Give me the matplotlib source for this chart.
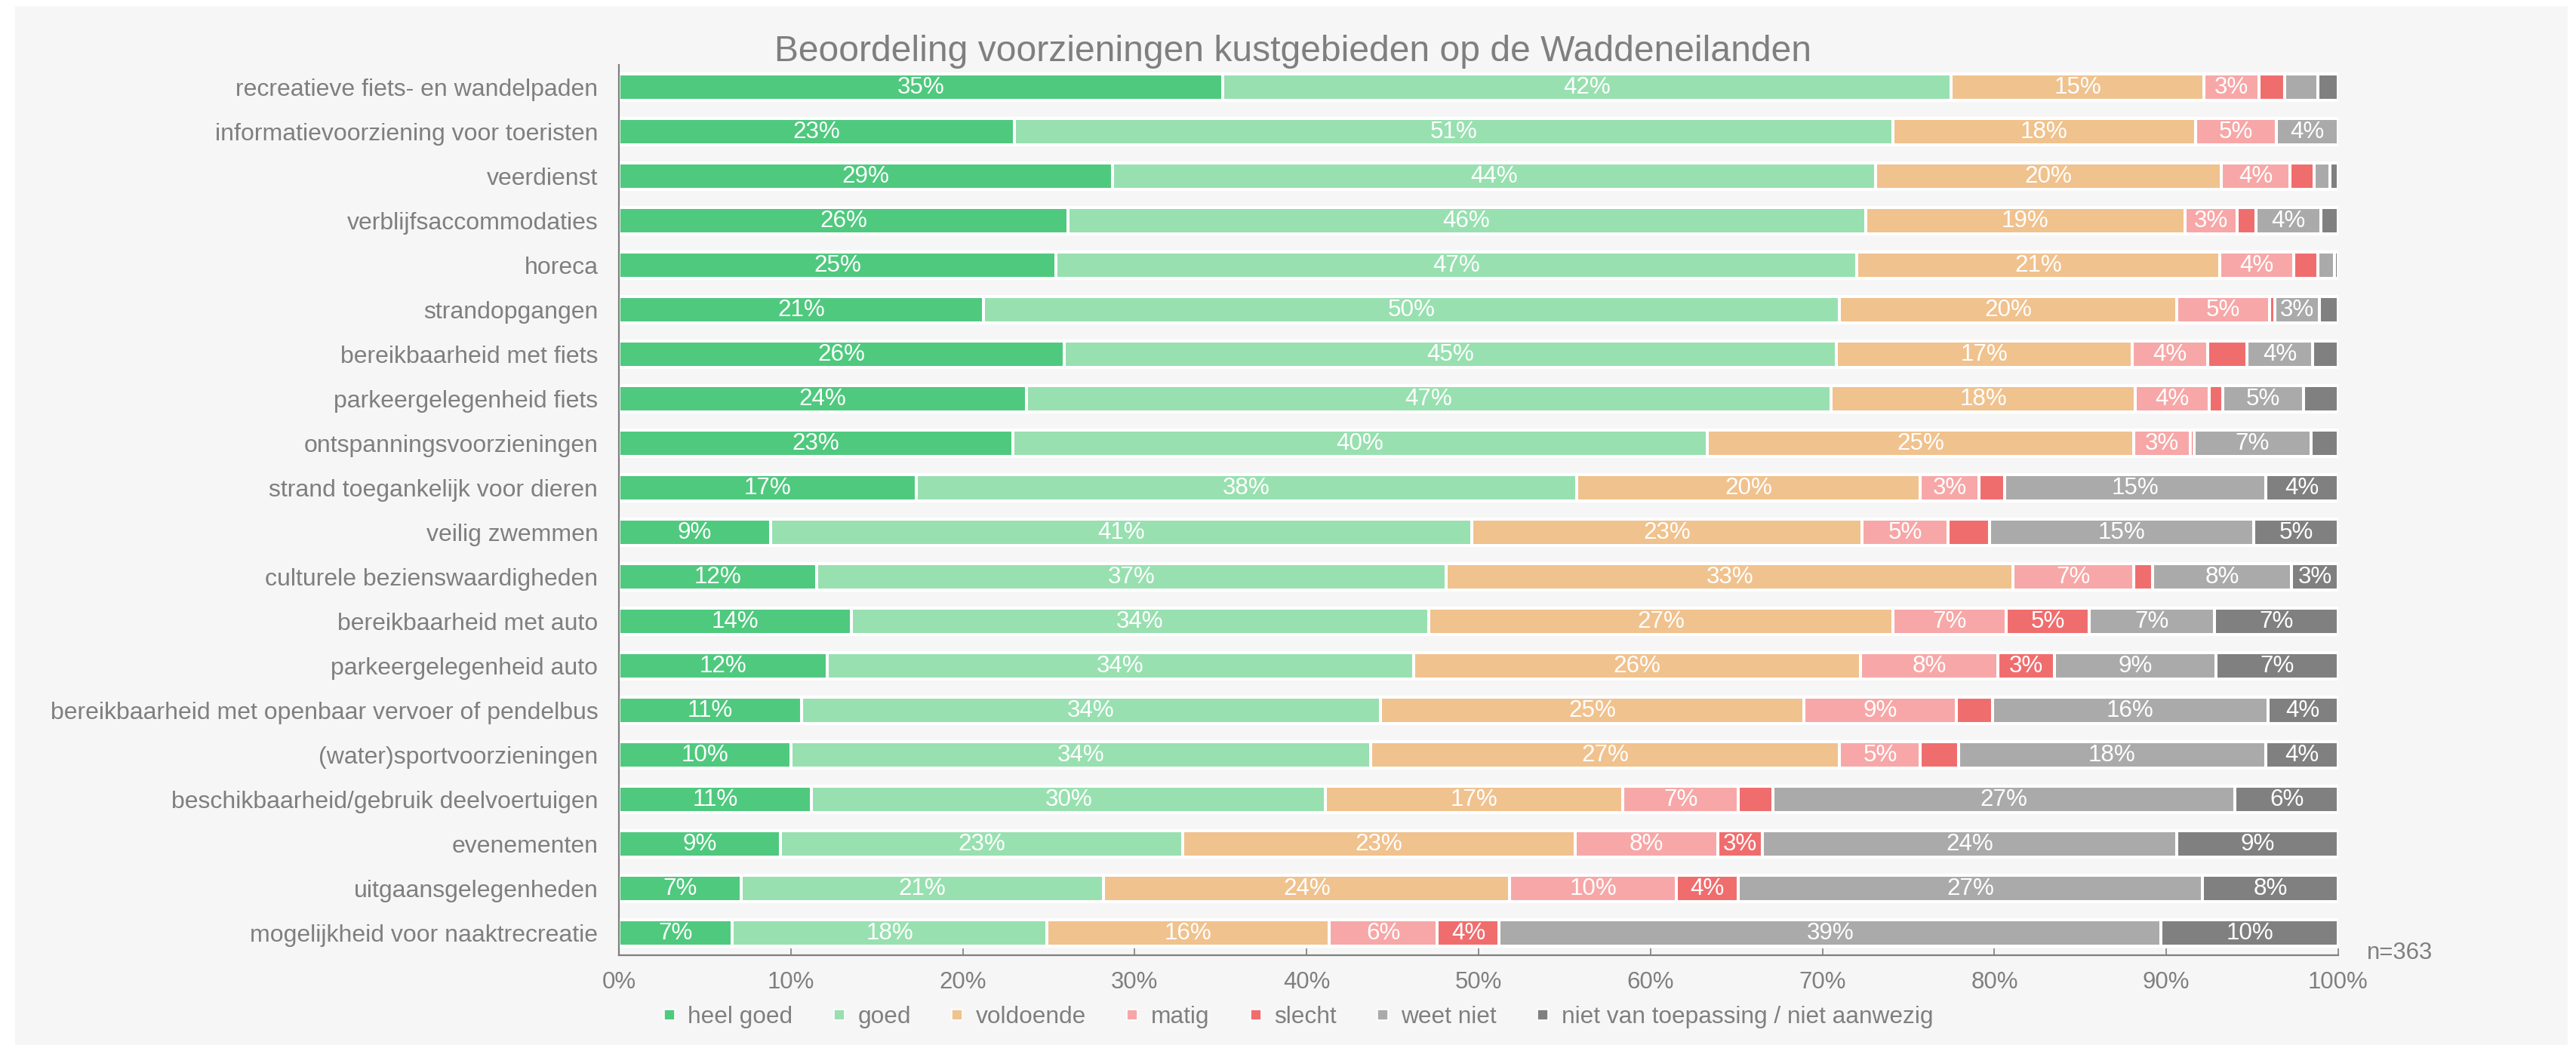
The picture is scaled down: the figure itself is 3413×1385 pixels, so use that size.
import matplotlib.pyplot as plt
from matplotlib.patches import Rectangle
from matplotlib.lines import Line2D

plt.rcParams['font.family'] = ['Liberation Sans', 'DejaVu Sans']

categories = ['recreatieve fiets- en wandelpaden', 'informatievoorziening voor toeristen', 'veerdienst',
              'verblijfsaccommodaties', 'horeca', 'strandopgangen', 'bereikbaarheid met fiets',
              'parkeergelegenheid fiets', 'ontspanningsvoorzieningen', 'strand toegankelijk voor dieren',
              'veilig zwemmen', 'culturele bezienswaardigheden', 'bereikbaarheid met auto',
              'parkeergelegenheid auto', 'bereikbaarheid met openbaar vervoer of pendelbus',
              '(water)sportvoorzieningen', 'beschikbaarheid/gebruik deelvoertuigen', 'evenementen',
              'uitgaansgelegenheden', 'mogelijkheid voor naaktrecreatie']

heel_goed = [35.1, 23.0, 28.7, 26.1, 25.4, 21.2, 25.9, 23.7, 22.9, 17.3,
             8.8, 11.5, 13.5, 12.1, 10.6, 10.0, 11.2, 9.4, 7.1, 6.6]
goed = [42.4, 51.1, 44.4, 46.4, 46.6, 49.8, 44.9, 46.8, 40.4, 38.4,
        40.8, 36.6, 33.6, 34.1, 33.7, 33.7, 29.9, 23.4, 21.1, 18.3]
voldoende = [14.7, 17.6, 20.1, 18.6, 21.1, 19.6, 17.2, 17.7, 24.8, 20.0,
             22.7, 33.0, 27.0, 26.0, 24.6, 27.3, 17.3, 22.8, 23.6, 16.4]
matig = [3.2, 4.7, 4.0, 3.0, 4.3, 5.4, 4.4, 4.3, 3.3, 3.4,
         5.0, 7.0, 6.6, 8.0, 8.9, 4.7, 6.7, 8.3, 9.7, 6.3]
slecht = [1.5, 0.0, 1.4, 1.1, 1.4, 0.3, 2.3, 0.8, 0.2, 1.5,
          2.4, 1.1, 4.8, 3.3, 2.1, 2.2, 2.0, 2.6, 3.6, 3.6]
weet_niet = [1.9, 3.6, 0.9, 3.8, 1.0, 2.6, 3.8, 4.7, 6.8, 15.2,
             15.4, 8.1, 7.3, 9.4, 16.0, 17.9, 26.9, 24.1, 27.0, 38.5]
nvt = [1.2, 0.0, 0.5, 1.0, 0.2, 1.1, 1.5, 2.0, 1.6, 4.2,
       4.9, 2.7, 7.2, 7.1, 4.1, 4.2, 6.0, 9.4, 7.9, 10.3]

series = ['heel goed', 'goed', 'voldoende', 'matig', 'slecht', 'weet niet',
          'niet van toepassing / niet aanwezig']
colors = ['#4fc97e', '#98e0b0', '#f0c28e', '#f7a7a7', '#f06d6e', '#aaaaaa', '#808080']
n_text = 'n=363'
title = 'Beoordeling voorzieningen kustgebieden op de Waddeneilanden'

txt = '#7f7f7f'
fig = plt.figure(figsize=(3413 / 200, 1385 / 200), dpi=200, facecolor='white')
fig.patches.append(Rectangle((20 / 3413, 0), 3382 / 3413, 1 - 8 / 1385, transform=fig.transFigure,
                             facecolor='#f6f6f6', edgecolor='none', zorder=-10))
ax = fig.add_axes([0.2403, 0.0859, 0.6674, 0.852])
ax.set_facecolor('none')

y = list(range(len(categories)))
left = [0.0] * len(categories)
for name, vals, col in zip(series, [heel_goed, goed, voldoende, matig, slecht, weet_niet, nvt], colors):
    bars = ax.barh(y, vals, left=left, height=0.6, color=col, edgecolor='white', linewidth=1.45)
    labels = ['%d%%' % int(v + 0.5) if v >= 2.5 else '' for v in vals]
    ax.bar_label(bars, labels=labels, label_type='center', color='white', fontsize=11.3)
    left = [a + b for a, b in zip(left, vals)]

ax.set_ylim(len(categories) - 0.5, -0.5)
ax.set_xlim(0, 100)
ax.set_yticks(y)
ax.set_yticklabels(categories)
ax.set_xticks(range(0, 101, 10))
ax.set_xticklabels(['%d%%' % t for t in range(0, 101, 10)])
ax.tick_params(axis='y', length=0, pad=10, labelsize=11.5, labelcolor=txt)
ax.tick_params(axis='x', direction='in', length=3.2, width=0.6, color=txt, pad=7.5,
               labelsize=11.2, labelcolor=txt)
for s in ['top', 'right']:
    ax.spines[s].set_visible(False)
for s in ['left', 'bottom']:
    ax.spines[s].set_color(txt)
    ax.spines[s].set_linewidth(0.8)

ax.text(1.0167, -0.0042, n_text, transform=ax.transAxes, ha='left', va='baseline',
        fontsize=11.2, color=txt)
fig.text(0.502, 0.9415, title, ha='center', va='baseline', fontsize=17.3, color=txt)

handles = [Line2D([], [], marker='s', linestyle='none', markersize=4.7, markerfacecolor=c,
                  markeredgecolor='white', markeredgewidth=0.6) for c in colors]
fig.legend(handles, series, loc='center', bbox_to_anchor=(0.504, 0.027), ncol=7, frameon=False,
           fontsize=11.4, labelcolor=txt, handlelength=0.5, handletextpad=0.52, columnspacing=1.69)

fig.savefig('out.png', dpi=200, facecolor=fig.get_facecolor())
